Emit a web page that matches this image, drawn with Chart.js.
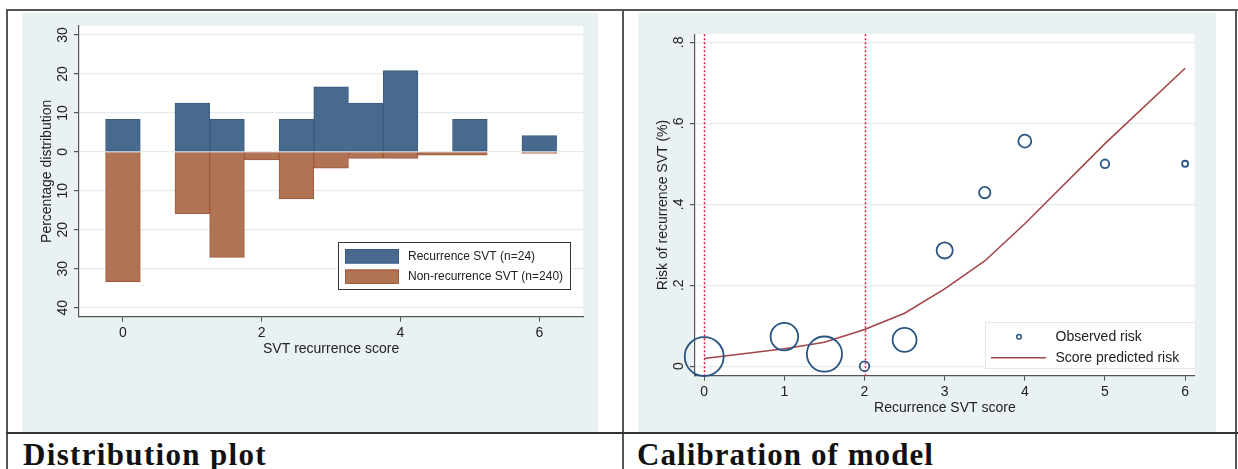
<!DOCTYPE html>
<html><head><meta charset="utf-8">
<script src="https://cdn.jsdelivr.net/npm/chart.js@4.4.0/dist/chart.umd.min.js"></script>
<style>
html,body{margin:0;padding:0;background:#fff;width:1238px;height:469px;overflow:hidden;position:relative;}
.ln{position:absolute;background:#555;}
.panel{position:absolute;}
.cap{position:absolute;font-family:"Liberation Serif","Times New Roman",serif;font-weight:bold;font-size:31px;line-height:31px;color:#111;white-space:nowrap;}
</style></head><body>
<div class="panel" style="left:22px;top:13px;width:576px;height:419px"><canvas id="c1" width="576" height="419"></canvas></div>
<div class="panel" style="left:638px;top:13px;width:578px;height:419px"><canvas id="c2" width="578" height="419"></canvas></div>
<div class="ln" style="left:6px;top:9px;width:1232px;height:2px"></div>
<div class="ln" style="left:6px;top:9px;width:2px;height:460px"></div>
<div class="ln" style="left:622px;top:9px;width:2px;height:460px"></div>
<div class="ln" style="left:1235px;top:9px;width:2px;height:460px"></div>
<div class="ln" style="left:6px;top:432px;width:1232px;height:2px;background:#333"></div>
<span class="cap" id="cap1" style="left:23px;top:439px">Distribution plot</span>
<span class="cap" id="cap2" style="left:637px;top:439px">Calibration of model</span>
<script>
// ---- Data: distribution plot ----
const scoreRecurrence = [0, 1, 1.5, 2.5, 3, 3.5, 4, 5, 6];
const pctRecurrence = [8.33, 12.5, 8.33, 8.33, 16.67, 12.5, 20.83, 8.33, 4.17];
const scoreNonRecurrence = [0, 1, 1.5, 2, 2.5, 3, 3.5, 4, 4.5, 5, 6];
const pctNonRecurrence = [33.33, 15.83, 27.08, 2.08, 12.08, 4.17, 1.67, 1.67, 0.83, 0.83, 0.42];
const distXTicks = [0, 2, 4, 6];
const distYTicks = [30, 20, 10, 0, -10, -20, -30, -40];
const distYTickLabels = ['30', '20', '10', '0', '10', '20', '30', '40'];
const distLabels = ['Recurrence SVT (n=24)', 'Non-recurrence SVT (n=240)'];

// ---- Data: calibration plot ----
const calScores = [0, 1, 1.5, 2, 2.5, 3, 3.5, 4, 5, 6];
const observedRisk = [0.024, 0.073, 0.030, 0, 0.065, 0.286, 0.429, 0.556, 0.5, 0.5];
const patientsPerScore = [82, 41, 67, 5, 31, 14, 7, 9, 4, 2];
const predictedRisk = [0.019, 0.043, 0.059, 0.091, 0.131, 0.191, 0.26, 0.352, 0.55, 0.736];
const cutoffScores = [0, 2];
const calXTicks = [0, 1, 2, 3, 4, 5, 6];
const calYTicks = [0, 0.2, 0.4, 0.6, 0.8];
const calYTickLabels = ['0', '.2', '.4', '.6', '.8'];
const calLabels = ['Observed risk', 'Score predicted risk'];

Chart.defaults.font.family = '"Liberation Sans", Arial, sans-serif';
Chart.defaults.color = '#222';

const BG = '#eaf1f3';
const GRID = '#e3ebee';
const AXIS = '#555';
const BLUE = '#476a8e', BLUE_B = '#3a5c80';
const BROWN = '#b07354', BROWN_B = '#a2583a';
const NAVY = '#2a5582', MAROON = '#a3464a', REDLINE = '#e3173f';

const bgPlugin = {
  id: 'bg',
  beforeDraw(chart) {
    const {ctx, chartArea: a} = chart;
    ctx.save();
    ctx.fillStyle = BG; ctx.fillRect(0, 0, chart.width, chart.height);
    ctx.fillStyle = '#fff'; ctx.fillRect(a.left, a.top, a.right - a.left, a.bottom - a.top);
    ctx.restore();
  }
};

function rotatedYLabels(labels) {
  return {
    id: 'rotY',
    afterDraw(chart) {
      const s = chart.scales.y, ctx = chart.ctx;
      ctx.save();
      ctx.fillStyle = '#222';
      ctx.font = '14px "Liberation Sans", Arial, sans-serif';
      ctx.textAlign = 'center'; ctx.textBaseline = 'middle';
      s.ticks.forEach((t, i) => {
        const py = s.getPixelForValue(t.value);
        ctx.save();
        ctx.translate(s.right - 16, py);
        ctx.rotate(-Math.PI / 2);
        ctx.fillText(labels[i], 0, 0);
        ctx.restore();
      });
      ctx.restore();
    }
  };
}

const distLegend = {
  id: 'distLegend',
  afterDraw(chart) {
    const ctx = chart.ctx;
    ctx.save();
    ctx.fillStyle = '#fff'; ctx.strokeStyle = '#333'; ctx.lineWidth = 1;
    ctx.fillRect(316.5, 229.5, 232, 47); ctx.strokeRect(316.5, 229.5, 232, 47);
    const ds = chart.data.datasets;
    const rows = [236, 256.5];
    rows.forEach((y, i) => {
      ctx.fillStyle = ds[i].backgroundColor; ctx.fillRect(323, y, 54, 14.5);
      ctx.strokeStyle = ds[i].borderColor; ctx.strokeRect(323.5, y + 0.5, 53, 13.5);
      ctx.fillStyle = '#222'; ctx.font = '12px "Liberation Sans", Arial, sans-serif';
      ctx.textAlign = 'left'; ctx.textBaseline = 'middle';
      ctx.fillText(ds[i].label, 386, y + 7.5);
    });
    ctx.restore();
  }
};

new Chart(document.getElementById('c1'), {
  type: 'bar',
  data: {
    datasets: [
      { label: distLabels[0], data: scoreRecurrence.map((x, i) => ({x, y: pctRecurrence[i]})),
        backgroundColor: BLUE, borderColor: BLUE_B, borderWidth: 1, borderSkipped: false,
        grouped: false, categoryPercentage: 1, barPercentage: 1, order: 1 },
      { label: distLabels[1], data: scoreNonRecurrence.map((x, i) => ({x, y: -pctNonRecurrence[i]})),
        backgroundColor: BROWN, borderColor: BROWN_B, borderWidth: 1, borderSkipped: false,
        grouped: false, categoryPercentage: 1, barPercentage: 1, order: 0 }
    ]
  },
  options: {
    responsive: false, animation: false, devicePixelRatio: 1,
    layout: { padding: { left: 0, top: 13, right: 14.8, bottom: 70.3 } },
    plugins: { legend: { display: false }, tooltip: { enabled: false } },
    scales: {
      x: { type: 'linear', min: -0.633, max: 6.633, offset: false,
        afterBuildTicks: s => { s.ticks = distXTicks.map(v => ({value: v})); },
        afterFit: s => { s.height = 45; },
        grid: { display: true, drawOnChartArea: false, drawTicks: true, tickLength: 5, tickColor: AXIS, offset: false },
        border: { display: true, color: AXIS, width: 1.2 },
        ticks: { color: '#222', font: { size: 14 }, padding: 3, maxRotation: 0, autoSkip: false },
        title: { display: true, text: 'SVT recurrence score', color: '#222', font: { size: 14 }, padding: { top: 0, bottom: 4 } } },
      y: { type: 'linear', min: -42.3, max: 32.3,
        afterBuildTicks: s => { s.ticks = distYTicks.map(v => ({value: v})); },
        afterFit: s => { s.width = 57; },
        grid: { color: GRID, lineWidth: 1.2, tickLength: 5, tickColor: AXIS },
        border: { display: true, color: AXIS, width: 1.2 },
        ticks: { display: false },
        title: { display: true, text: 'Percentage distribution', color: '#222', font: { size: 14 }, padding: { top: 16.6, bottom: 0 } } }
    }
  },
  plugins: [bgPlugin, rotatedYLabels(distYTickLabels), distLegend]
});

const refLines = {
  id: 'refLines',
  beforeDatasetsDraw(chart) {
    const {ctx, chartArea: a} = chart, s = chart.scales.x;
    ctx.save();
    ctx.strokeStyle = REDLINE; ctx.lineWidth = 1.5; ctx.setLineDash([2, 2]);
    cutoffScores.forEach(v => {
      const px = Math.round(s.getPixelForValue(v)) + 0.5;
      ctx.beginPath(); ctx.moveTo(px, a.top); ctx.lineTo(px, a.bottom); ctx.stroke();
    });
    ctx.restore();
  }
};

const calLegend = {
  id: 'calLegend',
  afterDraw(chart) {
    const ctx = chart.ctx;
    ctx.save();
    ctx.fillStyle = '#fff'; ctx.strokeStyle = '#e1e7ea'; ctx.lineWidth = 1;
    ctx.fillRect(347.5, 309.5, 210, 46); ctx.strokeRect(347.5, 309.5, 210, 46);
    ctx.strokeStyle = NAVY; ctx.lineWidth = 1.5;
    ctx.beginPath(); ctx.arc(381, 323.7, 2.3, 0, Math.PI * 2); ctx.stroke();
    ctx.strokeStyle = MAROON; ctx.lineWidth = 1.6;
    ctx.beginPath(); ctx.moveTo(353, 344.7); ctx.lineTo(408, 344.7); ctx.stroke();
    ctx.fillStyle = '#222'; ctx.font = '14px "Liberation Sans", Arial, sans-serif';
    ctx.textAlign = 'left'; ctx.textBaseline = 'middle';
    ctx.fillText(calLabels[0], 417.5, 323.7);
    ctx.fillText(calLabels[1], 417.5, 344.7);
    ctx.restore();
  }
};

new Chart(document.getElementById('c2'), {
  type: 'scatter',
  data: {
    datasets: [
      { label: calLabels[1], data: calScores.map((x, i) => ({x, y: predictedRisk[i]})),
        showLine: true, borderColor: MAROON, borderWidth: 1.6, pointRadius: 0, tension: 0, fill: false, order: 1 },
      { label: calLabels[0], data: calScores.map((x, i) => ({x, y: observedRisk[i]})),
        pointRadius: ctx => 2.15 * Math.sqrt(patientsPerScore[ctx.dataIndex]),
        pointBackgroundColor: 'rgba(0,0,0,0)', pointBorderColor: NAVY, pointBorderWidth: 1.8,
        showLine: false, clip: false, order: 0 }
    ]
  },
  options: {
    responsive: false, animation: false, devicePixelRatio: 1,
    layout: { padding: { left: 0, top: 13.7, right: 14.6, bottom: 11.3 } },
    plugins: { legend: { display: false }, tooltip: { enabled: false } },
    scales: {
      x: { type: 'linear', min: -0.115, max: 6.12,
        afterBuildTicks: s => { s.ticks = calXTicks.map(v => ({value: v})); },
        afterFit: s => { s.height = 45; },
        grid: { display: true, drawOnChartArea: false, drawTicks: true, tickLength: 5, tickColor: AXIS },
        border: { display: true, color: AXIS, width: 1.2 },
        ticks: { color: '#222', font: { size: 14 }, padding: 3, maxRotation: 0, autoSkip: false },
        title: { display: true, text: 'Recurrence SVT score', color: '#222', font: { size: 14 }, padding: { top: 0, bottom: 4 } } },
      y: { type: 'linear', min: -0.0234, max: 0.82,
        afterBuildTicks: s => { s.ticks = calYTicks.map(v => ({value: v})); },
        afterFit: s => { s.width = 57; },
        grid: { color: GRID, lineWidth: 1.2, tickLength: 5, tickColor: AXIS },
        border: { display: true, color: AXIS, width: 1.2 },
        ticks: { display: false },
        title: { display: true, text: 'Risk of recurrence SVT (%)', color: '#222', font: { size: 14 }, padding: { top: 16.6, bottom: 0 } } }
    }
  },
  plugins: [bgPlugin, refLines, rotatedYLabels(calYTickLabels), calLegend]
});

function fitCaption(id, target) {
  const el = document.getElementById(id);
  const w = el.getBoundingClientRect().width;
  const n = el.textContent.length;
  el.style.letterSpacing = ((target - w) / n) + 'px';
}
fitCaption('cap1', 244);
fitCaption('cap2', 297);
</script>
</body></html>
